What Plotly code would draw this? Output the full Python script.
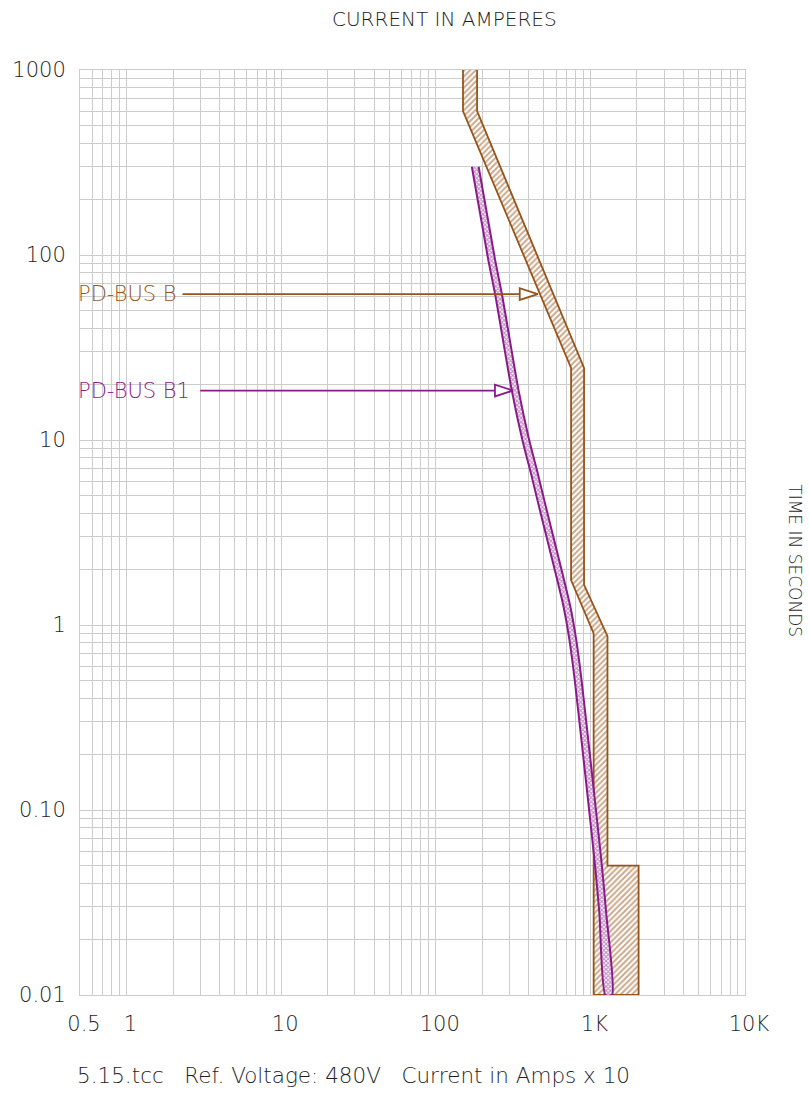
import math
import plotly.graph_objects as go

# PD-BUS B breaker: minimum and maximum clearing curves (amps, seconds)
bus_b_min_amps = [150, 150, 750, 750, 1050, 1050]
bus_b_min_secs = [1000, 600, 24.5, 1.75, 0.9, 0.01]
bus_b_max_amps = [185, 185, 910, 910, 1290, 1290, 2050, 2050]
bus_b_max_secs = [1000, 600, 24.5, 1.65, 0.87, 0.05, 0.05, 0.01]

# PD-BUS B1 characteristic (centre of the band)
bus_b1_amps = [180, 230, 255, 326, 382, 434, 490, 554, 627, 705, 770, 833, 931, 1038, 1124, 1203, 1315]
bus_b1_secs = [300, 94, 61, 18.6, 10, 6.6, 4.35, 2.88, 1.9, 1.26, 0.83, 0.505, 0.22, 0.096, 0.0515, 0.0277, 0.01]

# leader labels
label_names = ["PD-BUS B", "PD-BUS B1"]
label_secs = [61.5, 18.5]
label_from_amps = [2.3, 3.0]
label_tip_amps = [457, 316]

x_tick_vals = [0.5, 1, 10, 100, 1000, 10000]
x_tick_text = ["0.5", "1", "10", "100", "1K", "10K"]
y_tick_vals = [0.01, 0.1, 1, 10, 100, 1000]
y_tick_text = ["0.01", "0.10", "1", "10", "100", "1000"]

BROWN = "#96541a"
PURPLE = "#8a1a8a"
GRID = "#cccccc"
INK = "#1e1e1e"
FONT = "DejaVu Sans"
band_half = 10 ** 0.022  # half width of the B1 band, as a current ratio

fig = go.Figure()

# PD-BUS B band polygon
fig.add_trace(go.Scatter(
    x=bus_b_min_amps + bus_b_max_amps[::-1],
    y=bus_b_min_secs + bus_b_max_secs[::-1],
    mode="lines", fill="toself",
    line=dict(color=BROWN, width=1.8),
    fillcolor="white",
    fillpattern=dict(shape="/", fgcolor=BROWN, bgcolor="white", size=4, solidity=0.5),
    hoverinfo="skip", showlegend=False,
))

# PD-BUS B1 band polygon
b1_x = [a / band_half for a in bus_b1_amps] + [a * band_half for a in bus_b1_amps[::-1]]
b1_y = bus_b1_secs + bus_b1_secs[::-1]
fig.add_trace(go.Scatter(
    x=b1_x, y=b1_y,
    mode="lines", fill="toself",
    line=dict(color=PURPLE, width=2, shape="spline", smoothing=0.6),
    fillcolor="white",
    fillpattern=dict(shape="x", fgcolor=PURPLE, bgcolor="white", size=3, solidity=0.6),
    hoverinfo="skip", showlegend=False,
))

# leaders with open arrowheads
for name, secs, a0, a1, col in zip(label_names, label_secs, label_from_amps,
                                    label_tip_amps, [BROWN, PURPLE]):
    fig.add_trace(go.Scatter(
        x=[a0, a1], y=[secs, secs], mode="lines",
        line=dict(color=col, width=1.8),
        hoverinfo="skip", showlegend=False,
    ))
    fig.add_trace(go.Scatter(
        x=[a1], y=[secs], mode="markers",
        marker=dict(symbol="arrow", angle=90, size=19, color="white",
                    line=dict(color=col, width=1.8)),
        hoverinfo="skip", showlegend=False,
    ))
    fig.add_annotation(
        x=math.log10(0.5), y=math.log10(secs), xref="x", yref="y",
        text=name, showarrow=False, xanchor="left", yanchor="middle", xshift=-4,
        font=dict(family=FONT, size=21, color=col, weight=300),
    )

minor_x = [m * 10 ** e for e in range(-1, 4) for m in range(2, 10)]
minor_x = [v for v in minor_x if 0.5 <= v <= 10000]
minor_y = [m * 10 ** e for e in range(-2, 3) for m in range(2, 10)]

fig.update_xaxes(
    type="log", range=[math.log10(0.5), 4],
    tickmode="array", tickvals=x_tick_vals, ticktext=x_tick_text,
    showgrid=True, gridcolor=GRID, gridwidth=1,
    minor=dict(tickmode="array", tickvals=minor_x, showgrid=True, gridcolor=GRID, gridwidth=1),
    showline=True, linecolor=GRID, mirror=True, zeroline=False,
    ticks="", ticklabelstandoff=10, ticklabelshift=4,
    tickfont=dict(family=FONT, size=21, color=INK, weight=300),
)
fig.update_yaxes(
    type="log", range=[-2, 3],
    tickmode="array", tickvals=y_tick_vals, ticktext=y_tick_text,
    showgrid=True, gridcolor=GRID, gridwidth=1,
    minor=dict(tickmode="array", tickvals=minor_y, showgrid=True, gridcolor=GRID, gridwidth=1),
    showline=True, linecolor=GRID, mirror=True, zeroline=False,
    ticks="", ticklabelstandoff=9,
    tickfont=dict(family=FONT, size=21, color=INK, weight=300),
)

fig.add_annotation(
    x=0.548, y=1.0, xref="paper", yref="paper", yshift=51,
    text="CURRENT IN AMPERES", showarrow=False, xanchor="center", yanchor="middle",
    font=dict(family=FONT, size=20, color=INK, weight=300),
)
fig.add_annotation(
    x=1.075, y=0.469, xref="paper", yref="paper",
    text="TIME IN SECONDS", showarrow=False, textangle=90,
    xanchor="center", yanchor="middle",
    font=dict(family=FONT, size=17, color=INK, weight=300),
)
fig.add_annotation(
    x=0.0, y=0.0, xref="paper", yref="paper", yshift=-80, xshift=-5,
    text="5.15.tcc\u00a0\u00a0\u00a0Ref. Voltage: 480V\u00a0\u00a0\u00a0Current in Amps x 10",
    showarrow=False, xanchor="left", yanchor="middle",
    font=dict(family=FONT, size=21.5, color=INK, weight=300),
)

fig.update_layout(
    width=809, height=1093,
    margin=dict(l=77, r=64, t=70, b=98),
    paper_bgcolor="white", plot_bgcolor="white",
    showlegend=False,
)

fig.write_html("out.html")
